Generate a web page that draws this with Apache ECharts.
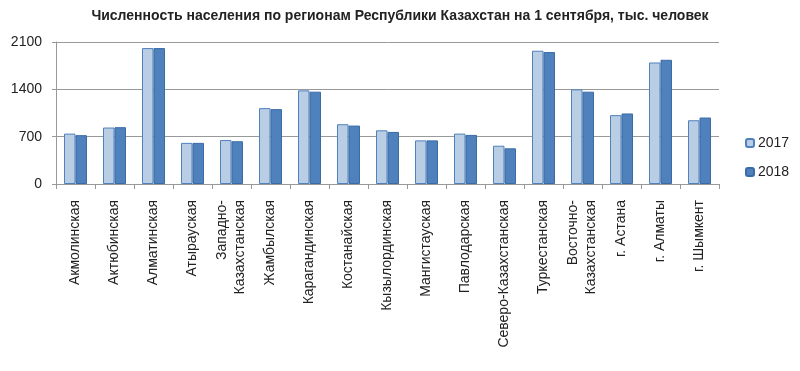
<!DOCTYPE html>
<html>
<head>
<meta charset="utf-8">
<script src="https://cdn.jsdelivr.net/npm/echarts@6/dist/echarts.min.js"></script>
<style>html,body{margin:0;padding:0;background:#fff}#c{width:800px;height:371px}</style>
</head>
<body>
<div id="c"></div>
<script>
var categories = ["Акмолинская","Актюбинская","Алматинская","Атырауская","Западно-\nКазахстанская","Жамбылская","Карагандинская","Костанайская","Кызылординская","Мангистауская","Павлодарская","Северо-Казахстанская","Туркестанская","Восточно-\nКазахстанская","г. Астана","г. Алматы","г. Шымкент"];
var values2017 = [745, 835, 2010, 608, 650, 1122, 1385, 884, 794, 645, 745, 566, 1971, 1400, 1018, 1797, 943];
var values2018 = [722, 840, 2010, 608, 632, 1107, 1365, 864, 770, 645, 726, 528, 1951, 1365, 1043, 1837, 983];
var yTicks = [0, 700, 1400, 2100];

var chart = echarts.init(document.getElementById('c'), null, {renderer:'canvas'});
chart.setOption({
  animation: false,
  title: {
    text: 'Численность населения по регионам Республики Казахстан на 1 сентября, тыс. человек',
    left: 'center', top: 4,
    textStyle: {fontFamily: 'Liberation Sans Narrow, Liberation Sans, sans-serif', fontSize: 14, fontWeight: 'bold', color: '#222'}
  },
  legend: {
    orient: 'vertical', left: 740, top: 131, itemWidth: 8, itemHeight: 8, itemGap: 15,
    textStyle: {fontFamily: 'Liberation Sans, Arial, sans-serif', fontSize: 14, color: '#222', padding: [0,0,0,-1]},
    data: ['2017', '2018']
  },
  grid: {left: 56, right: 81, top: 42, bottom: 187, containLabel: false},
  xAxis: {
    type: 'category', data: categories,
    axisLine: {lineStyle: {color: '#999'}},
    axisTick: {show: true, length: 5, lineStyle: {color: '#999'}},
    axisLabel: {rotate: 90, interval: 0, margin: 16, fontFamily: 'Liberation Sans, Arial, sans-serif', fontSize: 14, color: '#222', lineHeight: 18}
  },
  yAxis: {
    type: 'value', min: 0, max: 2100, interval: 700,
    axisLine: {show: true, lineStyle: {color: '#999'}},
    axisTick: {show: true, length: 4, lineStyle: {color: '#999'}},
    splitLine: {lineStyle: {color: '#999'}},
    axisLabel: {margin: 14, fontFamily: 'Liberation Sans, Arial, sans-serif', fontSize: 14, color: '#222',
      formatter: function(v){ return yTicks.indexOf(v) >= 0 ? String(v) : ''; }}
  },
  series: [
    {name: '2017', type: 'bar', data: values2017, barWidth: 11.5, barGap: '0%',
     itemStyle: {color: '#B9CDE5', borderColor: '#4F81BD', borderWidth: 1}},
    {name: '2018', type: 'bar', data: values2018, barWidth: 11.5, barGap: '0%',
     itemStyle: {color: '#4F81BD', borderColor: '#3A6BA5', borderWidth: 1}}
  ]
});
</script>
</body>
</html>
